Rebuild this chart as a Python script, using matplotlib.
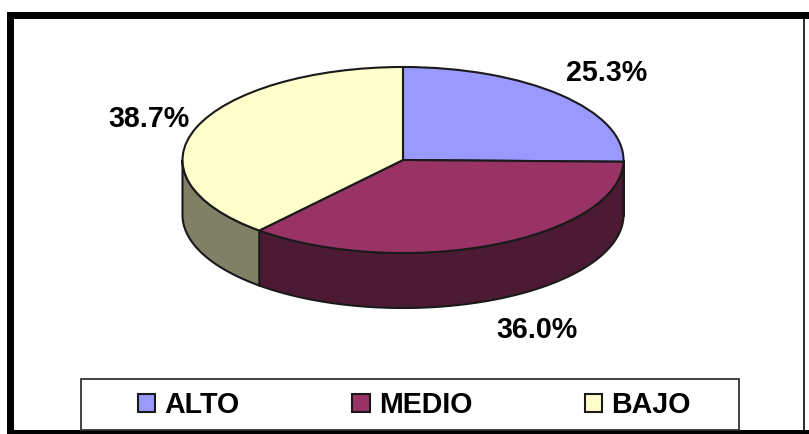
import numpy as np
import matplotlib
matplotlib.use("Agg")
import matplotlib.pyplot as plt
from matplotlib.patches import Rectangle

plt.rcParams['font.family'] = ['Liberation Sans', 'DejaVu Sans']

categories = ["ALTO", "MEDIO", "BAJO"]
percentages = [25.3, 36.0, 38.7]
top_colors = ["#9999FF", "#993366", "#FFFFCC"]
side_colors = ["#4D4D80", "#4D1A33", "#808066"]

W, H = 809, 434
CX, CY, RX, RY, DEPTH = 403.0, 160.0, 220.5, 93.0, 55.0
EDGE = "#1a1a1a"

fig = plt.figure(figsize=(W / 100, H / 100), dpi=100, facecolor="white")

# Pie axes: unit circle squashed into the tilted ellipse
ax = fig.add_axes([0, 0, 1, 1])
wedges, _ = ax.pie(percentages, colors=top_colors, startangle=90,
                   counterclock=False, radius=1.0,
                   wedgeprops=dict(edgecolor=EDGE, linewidth=1.5, zorder=3))
ax.set_aspect("auto")
ax.set_xlim(-CX / RX, (W - CX) / RX)
ax.set_ylim((CY - H) / RY, CY / RY)
ax.axis("off")

# Rim of the disc: only the part facing the viewer (180 to 360 degrees)
drop = DEPTH / RY
bounds = 90 - 3.6 * np.cumsum([0] + percentages)
for i, color in enumerate(side_colors):
    hi, lo = bounds[i], bounds[i + 1]
    a0, a1 = max(lo, -180), min(hi, 0)
    if a1 <= a0:
        continue
    t = np.radians(np.linspace(a0, a1, 120))
    xs = np.r_[np.cos(t), np.cos(t[::-1])]
    ys = np.r_[np.sin(t), np.sin(t[::-1]) - drop]
    ax.fill(xs, ys, facecolor=color, edgecolor=EDGE, linewidth=1.5, zorder=2)

# Overlay in pixel coordinates for the frame and value labels
ov = fig.add_axes([0, 0, 1, 1], facecolor="none")
ov.set_xlim(0, W)
ov.set_ylim(H, 0)
ov.axis("off")

for x, y, w, h, c in [(7, 12, W - 7, 7, "black"),
                      (7, 12, 7, H - 12, "black"),
                      (7, 429.5, W - 7, 4.5, "black"),
                      (803, 19, 2, 411, "#333333")]:
    ov.add_patch(Rectangle((x, y), w, h, facecolor=c, edgecolor="none"))

label_xy = [(607, 73), (537, 330), (149, 119)]
for (x, y), p in zip(label_xy, percentages):
    ov.text(x, y, f"{p:.1f}%", fontsize=20.6, fontweight="bold", color="black",
            ha="center", va="center")

# Legend box sits on the bottom band of the frame
ov.add_patch(Rectangle((81, 378.5), 658, 51, facecolor="white",
                       edgecolor="#333333", linewidth=1.3, zorder=4))
leg = ov.legend(wedges, categories, ncol=3, loc="center",
                bbox_to_anchor=(414.5 / W, 1 - 405 / H),
                bbox_transform=fig.transFigure,
                prop=dict(weight="bold", size=20.6),
                handlelength=0.6, handleheight=0.6, handletextpad=0.32,
                columnspacing=3.95, borderaxespad=0, borderpad=0,
                frameon=False)
leg.set_zorder(5)

fig.savefig("out.png", dpi=100)
